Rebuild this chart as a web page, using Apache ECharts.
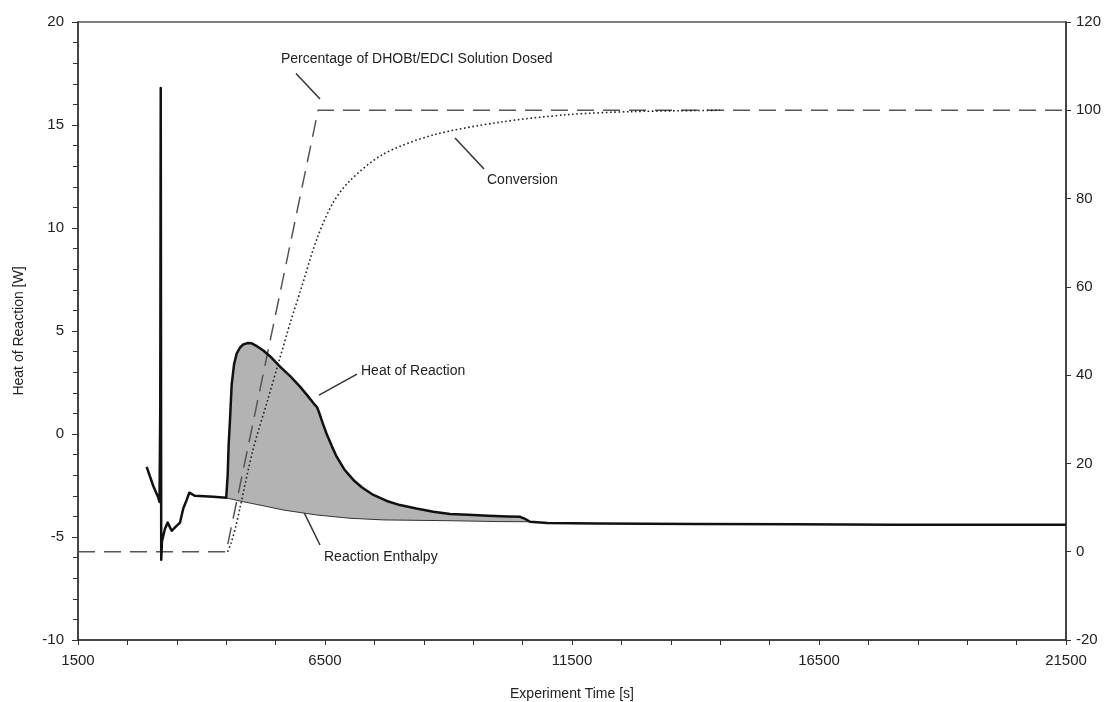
<!DOCTYPE html>
<html>
<head>
<meta charset="utf-8">
<title>Heat of Reaction</title>
<script src="https://cdn.jsdelivr.net/npm/echarts@6/dist/echarts.min.js"></script>
<style>
    html, body {
        margin: 0;
        padding: 0;
        background: #fff;
    }

    #chart {
        width: 1114px;
        height: 702px;
    }
</style>
</head>
<body>
<div id="chart"></div>
<script>
// 横轴刻度 (s)
const timeTicks = [1500, 6500, 11500, 16500, 21500]

// 反应热 [time, W]
const heatOfReaction = [
    [2890, -1.6], [3020, -2.5], [3126, -3.1], [3150, -3.3], [3165, 1.2], [3175, 16.8], [3185, -6.1],
    [3200, -5.2], [3261, -4.6], [3315, -4.3], [3396, -4.7], [3480, -4.5], [3565, -4.3], [3632, -3.6],
    [3700, -3.2], [3753, -2.85], [3868, -3.0], [4239, -3.05], [4500, -3.1], [4530, -2.0], [4550, -0.5],
    [4577, 0.7], [4611, 2.4], [4660, 3.4], [4712, 3.9], [4780, 4.2], [4847, 4.35], [4940, 4.42],
    [5016, 4.4], [5130, 4.25], [5251, 4.05], [5420, 3.7], [5589, 3.27], [5800, 2.8], [5994, 2.3],
    [6150, 1.85], [6264, 1.5], [6340, 1.3], [6380, 1.05], [6450, 0.55], [6534, 0.0], [6640, -0.6],
    [6736, -1.1], [6900, -1.75], [7074, -2.23], [7250, -2.6], [7479, -2.96], [7750, -3.25],
    [8018, -3.45], [8350, -3.62], [8693, -3.77], [9031, -3.88], [9400, -3.92], [9800, -3.97],
    [10200, -4.0], [10450, -4.02], [10550, -4.12], [10650, -4.26], [11000, -4.32], [12000, -4.35],
    [14000, -4.37], [16000, -4.38], [18000, -4.4], [21500, -4.4]
]

// 反应焓基线 [time, W]
const reactionEnthalpy = [
    [4500, -3.1], [4847, -3.29], [5184, -3.45], [5656, -3.69], [6331, -3.93], [7006, -4.09],
    [7681, -4.17], [9031, -4.21], [10000, -4.25], [10650, -4.26]
]

// 加料百分比 [time, %]
const dosed = [[1500, 0], [4500, 0], [6360, 100], [21500, 100]]

// 转化率 [time, %]
const conversion = [
    [4530, 0], [4600, 2], [4700, 6], [4780, 10], [5040, 23], [5330, 34], [5590, 44], [5800, 52],
    [6000, 59], [6340, 71], [6660, 79], [7000, 84], [7670, 90], [8690, 94.4], [10040, 97.3],
    [11400, 99.0], [12700, 99.7], [14500, 100]
]

// 标注 (数据坐标, 左轴): 文字位置 + 引线两端
const notes = [
    { text: 'Percentage of DHOBt/EDCI Solution Dosed', at: [5609, 18.2], from: [5913, 17.5], to: [6399, 16.26] },
    { text: 'Conversion', at: [9779, 12.33], from: [9132, 14.37], to: [9719, 12.86] },
    { text: 'Heat of Reaction', at: [7229, 3.06], from: [7148, 2.91], to: [6379, 1.89] },
    { text: 'Reaction Enthalpy', at: [6480, -5.97], from: [5933, -3.11], to: [6399, -5.39] }
]

const font = 'Liberation Sans, Arial, sans-serif'
const axisColor = '#333'

const chart = echarts.init(document.getElementById('chart'))

// 灰色面积: 反应热曲线与基线之间
const fillTop = heatOfReaction.filter(p => p[0] >= 4500 && p[0] <= 10650)
const fillPolygon = fillTop.concat(reactionEnthalpy.slice().reverse())

chart.setOption({
    animation: false,
    backgroundColor: '#fff',
    grid: {
        left: 78,
        right: 48,
        top: 22,
        bottom: 62,
        outerBoundsMode: 'none',
        show: true,
        borderColor: '#555',
        borderWidth: 1.5
    },
    xAxis: {
        type: 'value',
        min: timeTicks[0],
        max: timeTicks[timeTicks.length - 1],
        interval: 5000,
        name: 'Experiment Time [s]',
        nameLocation: 'middle',
        nameGap: 47,
        nameTextStyle: { fontFamily: font, fontSize: 14, color: '#222' },
        axisLine: { onZero: false, lineStyle: { color: axisColor, width: 1.5 } },
        axisTick: { length: 5, lineStyle: { color: axisColor } },
        minorTick: { show: true, splitNumber: 5, length: 5, lineStyle: { color: axisColor } },
        axisLabel: { fontFamily: font, fontSize: 15, color: '#222', margin: 13, formatter: v => String(v) },
        splitLine: { show: false }
    },
    yAxis: [
        {
            type: 'value',
            min: -10,
            max: 20,
            interval: 5,
            name: 'Heat of Reaction [W]',
            nameLocation: 'middle',
            nameGap: 52,
            nameTextStyle: { fontFamily: font, fontSize: 14, color: '#222' },
            axisLine: { show: true, onZero: false, lineStyle: { color: axisColor, width: 1.5 } },
            axisTick: { show: true, length: 6, lineStyle: { color: axisColor } },
            minorTick: { show: true, splitNumber: 5, length: 5, lineStyle: { color: axisColor } },
            axisLabel: { fontFamily: font, fontSize: 15, color: '#222', margin: 14 },
            splitLine: { show: false }
        },
        {
            type: 'value',
            min: -20,
            max: 120,
            interval: 20,
            name: '%',
            nameLocation: 'middle',
            nameGap: 34,
            nameRotate: -90,
            nameTextStyle: { fontFamily: font, fontSize: 14, color: '#222' },
            axisLine: { show: true, onZero: false, lineStyle: { color: axisColor, width: 1.5 } },
            axisTick: { show: true, length: 5, lineStyle: { color: axisColor } },
            axisLabel: { fontFamily: font, fontSize: 15, color: '#222', margin: 10 },
            splitLine: { show: false }
        }
    ],
    series: [
        {
            name: 'fill',
            type: 'custom',
            yAxisIndex: 0,
            silent: true,
            z: 1,
            data: [0],
            renderItem: function (params, api) {
                const points = fillPolygon.map(p => api.coord(p))
                return {
                    type: 'polygon',
                    shape: { points: points },
                    style: { fill: '#b3b3b3' }
                }
            }
        },
        {
            name: 'Reaction Enthalpy',
            type: 'line',
            yAxisIndex: 0,
            data: reactionEnthalpy,
            symbol: 'none',
            z: 3,
            lineStyle: { color: '#333', width: 1 }
        },
        {
            name: 'Percentage of DHOBt/EDCI Solution Dosed',
            type: 'line',
            yAxisIndex: 1,
            data: dosed,
            symbol: 'none',
            z: 4,
            lineStyle: { color: '#555', width: 1.5, type: [17, 9] }
        },
        {
            name: 'Conversion',
            type: 'line',
            yAxisIndex: 1,
            data: conversion,
            symbol: 'none',
            smooth: 0.3,
            z: 4,
            lineStyle: { color: '#222', width: 1.6, type: [1.6, 2.6] }
        },
        {
            name: 'Heat of Reaction',
            type: 'line',
            yAxisIndex: 0,
            data: heatOfReaction,
            symbol: 'none',
            z: 5,
            lineStyle: { color: '#111', width: 2.5, join: 'round' }
        }
    ]
})

// 标注文字和引线, 数据坐标转像素
const px = p => chart.convertToPixel({ xAxisIndex: 0, yAxisIndex: 0 }, p)
const graphics = []
notes.forEach(n => {
    const a = px(n.at), f = px(n.from), t = px(n.to)
    graphics.push({
        type: 'text',
        x: a[0],
        y: a[1],
        style: {
            text: n.text,
            fontFamily: font,
            fontSize: 14,
            fill: '#222',
            verticalAlign: 'middle'
        }
    })
    graphics.push({
        type: 'line',
        shape: { x1: f[0], y1: f[1], x2: t[0], y2: t[1] },
        style: { stroke: '#333', lineWidth: 1.5 }
    })
})
chart.setOption({ graphic: graphics })
</script>
</body>
</html>
